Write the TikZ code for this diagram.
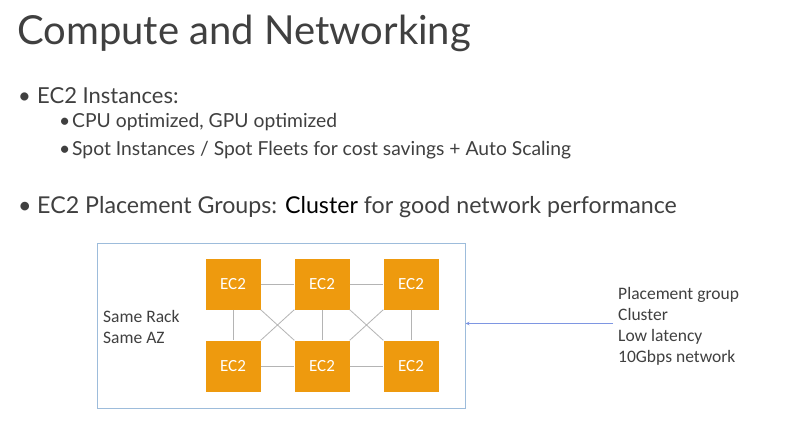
\documentclass[tikz,border=0pt]{standalone}
\usepackage{fontspec}
\setmainfont{Lato}
\newfontfamily\diagfont{Carlito}
\usetikzlibrary{matrix,arrows.meta}

\definecolor{slidetext}{HTML}{404040}
\definecolor{ectwo}{HTML}{EE9A0E}
\definecolor{rackblue}{HTML}{9DBCDB}
\definecolor{linkgray}{HTML}{B4B4B4}

\tikzset{
  ec2box/.style={fill=ectwo, text=white, minimum width=55pt, minimum height=51pt,
    inner sep=0pt, font=\diagfont\fontsize{17}{20}\selectfont},
  link/.style={draw=linkgray, line width=0.8pt},
  sidetext/.style={anchor=base west, inner sep=0pt, text=slidetext,
    font=\diagfont\fontsize{17.5}{20}\selectfont},
  slideline/.style={anchor=base west, inner sep=0pt, text=slidetext}
}

\begin{document}
\begin{tikzpicture}[x=1pt, y=-1pt]
\useasboundingbox[fill=white] (0,0) rectangle (803,426);

% title and bullets
\node[slideline, font=\fontsize{40}{46}\selectfont] (title) at (17,44) {Compute and Networking};
\node[slideline, font=\fontsize{22}{26}\selectfont] (b1dot) at (18,103) {\textbullet};
\node[slideline, font=\fontsize{22}{26}\selectfont] (b1) at (37,103) {EC2 Instances:};
\node[slideline, font=\fontsize{19.3}{22}\selectfont] (b11dot) at (59,127) {\textbullet};
\node[slideline, font=\fontsize{19.3}{22}\selectfont] (b11) at (72,127) {CPU optimized, GPU optimized};
\node[slideline, font=\fontsize{19.3}{22}\selectfont] (b12dot) at (59,155) {\textbullet};
\node[slideline, font=\fontsize{19.3}{22}\selectfont] (b12) at (72,155) {Spot Instances / Spot Fleets for cost savings + Auto Scaling};
\node[slideline, font=\fontsize{23.2}{26}\selectfont] (b2dot) at (18,213) {\textbullet};
\node[slideline, font=\fontsize{23.2}{26}\selectfont] (b2) at (37,213) {EC2 Placement Groups: \textcolor{black}{Cluster} for good network performance};

% the rack
\node[draw=rackblue, line width=1pt, minimum width=368pt, minimum height=165pt, inner sep=0pt]
  (rack) at (281,325.5) {};
\matrix[matrix of nodes, name=m, nodes=ec2box, column sep=34pt, row sep=31pt] at (322,325) {
  EC2 & EC2 & EC2 \\
  EC2 & EC2 & EC2 \\ };
\path[link] (m-1-1) edge (m-1-2) (m-1-2) edge (m-1-3);
\path[link] (m-2-1) edge (m-2-2) (m-2-2) edge (m-2-3);
\path[link] (m-1-1) edge (m-2-1) (m-1-2) edge (m-2-2) (m-1-3) edge (m-2-3);
\path[link] (m-1-1.south east) edge (m-2-2.north west)
  (m-1-2.south west) edge (m-2-1.north east);
\path[link] (m-1-2.south east) edge (m-2-3.north west)
  (m-1-3.south west) edge (m-2-2.north east);

\node[sidetext] (rackname) at (103,322) {Same Rack};
\node[sidetext] (rackaz) at (103,343) {Same AZ};

% placement group notes
\node[sidetext] (pg1) at (618,299) {Placement group};
\node[sidetext] (pg2) at (618,320) {Cluster};
\node[sidetext] (pg3) at (618,341) {Low latency};
\node[sidetext] (pg4) at (618,362) {10Gbps network};
\coordinate (pgin) at (613,323.5);
\draw[rackblue!80!blue, line width=0.7pt, -{Stealth[length=4pt,width=3.5pt]}] (pgin) -- (rack.east |- pgin);
\end{tikzpicture}
\end{document}
